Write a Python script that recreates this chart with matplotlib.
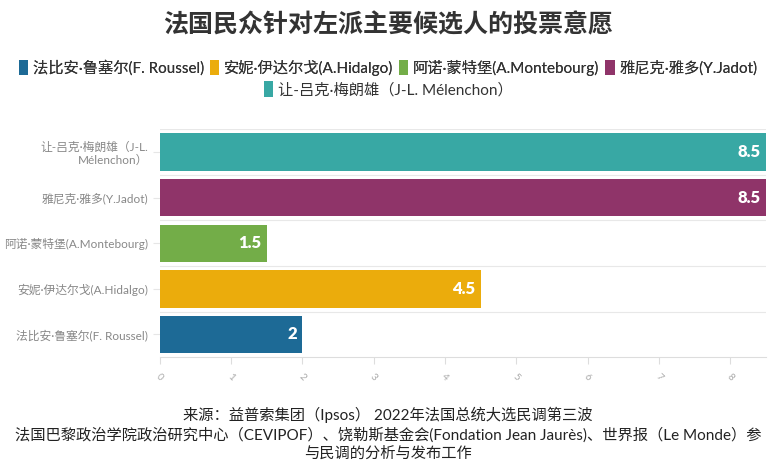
import matplotlib
matplotlib.use("Agg")
import matplotlib.pyplot as plt
from matplotlib.patches import Patch

# Latin (incl. narrow middle dot) from Lato, CJK from Noto
plt.rcParams['font.family'] = ['Lato', 'Noto Sans CJK SC', 'DejaVu Sans']

# 数据 (bottom -> top)
candidates = ["法比安·鲁塞尔(F. Roussel)", "安妮·伊达尔戈(A.Hidalgo)", "阿诺·蒙特堡(A.Montebourg)",
              "雅尼克·雅多(Y.Jadot)", "让-吕克·梅朗雄（J-L. Mélenchon）"]
tick_labels = ["法比安·鲁塞尔(F. Roussel)", "安妮·伊达尔戈(A.Hidalgo)", "阿诺·蒙特堡(A.Montebourg)",
               "雅尼克·雅多(Y.Jadot)", "让-吕克·梅朗雄（J-L.\nMélenchon）"]
values = [2, 4.5, 1.5, 8.5, 8.5]
colors = ["#1d6a96", "#ebac0c", "#73ad48", "#8f3469", "#38a8a4"]
xticks = [0, 1, 2, 3, 4, 5, 6, 7, 8]

title = "法国民众针对左派主要候选人的投票意愿"
footer = ("来源：益普索集团（Ipsos） 2022年法国总统大选民调第三波\n"
          "法国巴黎政治学院政治研究中心（CEVIPOF）、饶勒斯基金会(Fondation Jean Jaurès)、世界报（Le Monde）参\n"
          "与民调的分析与发布工作")

fig = plt.figure(figsize=(7.76, 4.70), dpi=100)
ax = fig.add_axes([0.206, 0.240, 0.781, 0.485])

ypos = list(range(len(values)))
ax.barh(ypos, values, height=0.82, color=colors, zorder=3)
for y, v in zip(ypos, values):
    ax.text(v - 0.08, y, f"{v:g}", ha="right", va="center", color="white",
            fontsize=12, fontweight="heavy", zorder=4)

ax.set_xlim(0, 8.5)
ax.set_ylim(-0.5, 4.5)
ax.set_yticks(ypos)
ax.set_yticklabels(tick_labels, fontsize=8.5, color="#888888", ha="right", multialignment="right")
ax.set_xticks(xticks)
ax.set_xticklabels([str(t) for t in xticks], rotation=-45, fontsize=7, color="#aaaaaa")
ax.tick_params(axis="x", length=5, color="#dddddd", pad=6)
ax.tick_params(axis="y", length=5, color="#e6e6e6")

# category separators
ax.set_yticks([y + 0.5 for y in ypos[:-1]] + [4.5], minor=True)
ax.grid(axis="y", which="minor", color="#e8e8e8", lw=0.8, zorder=0)
ax.grid(axis="x", visible=False)
for s in ["top", "right", "left"]:
    ax.spines[s].set_visible(False)
ax.spines["bottom"].set_color("#dddddd")
ax.tick_params(axis="y", which="minor", length=0)

fig.text(0.5, 0.949, title, ha="center", va="center", fontsize=18, fontweight="bold", color="#333333")

handles = [Patch(facecolor=c, edgecolor="none") for c in colors]
leg1 = fig.legend(handles[:4], candidates[:4], loc="center", bbox_to_anchor=(0.5, 0.856), ncol=4,
                  frameon=False, fontsize=11, handlelength=0.6, handleheight=1.2,
                  handletextpad=0.3, columnspacing=0.4, labelcolor="#333333")
fig.add_artist(leg1)
fig.legend(handles[4:], candidates[4:], loc="center", bbox_to_anchor=(0.5, 0.81), ncol=1,
           frameon=False, fontsize=11, handlelength=0.6, handleheight=1.2,
           handletextpad=0.3, labelcolor="#333333")

fig.text(0.5, 0.077, footer, ha="center", va="center", fontsize=11, color="#222222", linespacing=1.35)

fig.savefig("out.png", dpi=100)
